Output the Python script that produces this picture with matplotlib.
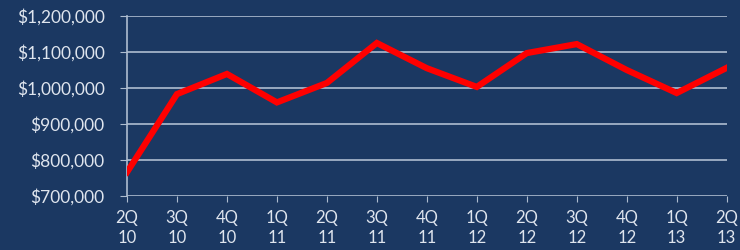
import matplotlib.pyplot as plt
from matplotlib.ticker import FuncFormatter

quarters = ["2Q\n10", "3Q\n10", "4Q\n10", "1Q\n11", "2Q\n11", "3Q\n11", "4Q\n11",
            "1Q\n12", "2Q\n12", "3Q\n12", "4Q\n12", "1Q\n13", "2Q\n13"]
values = [766000, 983000, 1039000, 960000, 1014000, 1125000, 1055000,
          1003000, 1097000, 1122000, 1050000, 986000, 1056000]

bg = "#1b3862"
txt = "#dfe5ee"
grid = "#aebdd0"

plt.rcParams['font.family'] = ['Lato', 'DejaVu Sans']

fig = plt.figure(figsize=(7.4, 2.5), dpi=100, facecolor=bg)
ax = fig.add_axes([0.1716, 0.216, 0.8104, 0.72], facecolor=bg)

x = list(range(len(quarters)))
ax.plot(x, values, color="#ff0000", lw=4.5, solid_joinstyle='miter', zorder=3)

ax.set_xlim(0, len(quarters) - 1)
ax.set_ylim(700000, 1200000)
ax.set_yticks(range(700000, 1200001, 100000))
ax.yaxis.set_major_formatter(FuncFormatter(lambda v, p: "${:,.0f}".format(v)))
ax.set_xticks(x)
ax.set_xticklabels(quarters)

ax.grid(axis='y', color=grid, lw=1.2)
ax.set_axisbelow(True)
for s in ['top', 'right', 'bottom']:
    ax.spines[s].set_visible(False)
ax.spines['left'].set_color(grid)
ax.spines['left'].set_linewidth(1.2)

ax.tick_params(axis='y', colors=txt, labelsize=12.5, length=5, color=grid, pad=11)
ax.tick_params(axis='x', colors=txt, labelsize=12, length=4, color=grid, pad=6)
for lbl in ax.get_xticklabels():
    lbl.set_linespacing(1.35)

fig.savefig("out.png", dpi=100, facecolor=bg)
